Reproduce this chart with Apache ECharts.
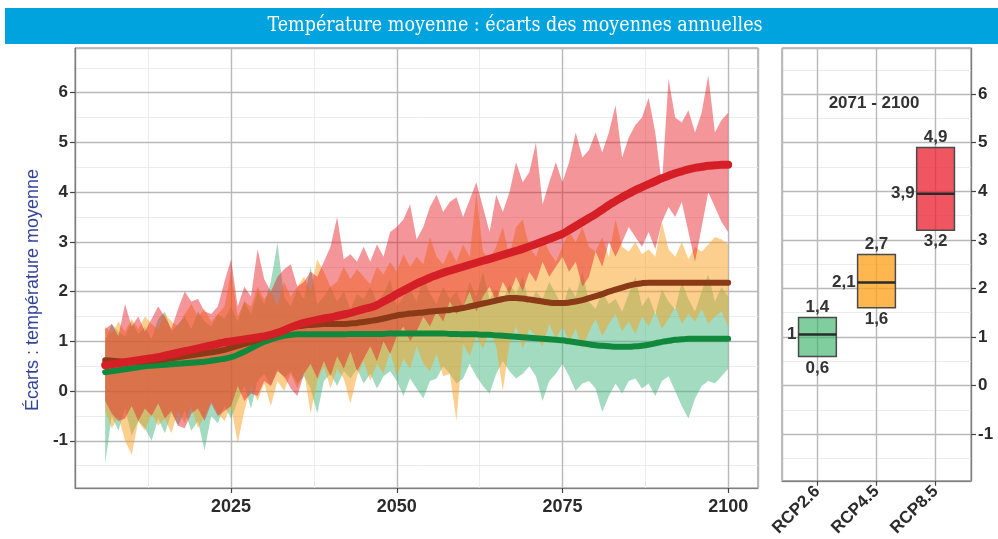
<!DOCTYPE html>
<html><head><meta charset="utf-8">
<script src="https://cdn.jsdelivr.net/npm/echarts@6/dist/echarts.min.js"></script>
<style>html,body{margin:0;padding:0;background:#fff}#c{width:998px;height:539px}</style>
</head><body><div id="c"></div>
<script>
const titleText = 'Température moyenne : écarts des moyennes annuelles';
const yAxisTitle = 'Écarts : température moyenne';
const boxPeriod = '2071 - 2100';
const firstYear = 2006, lastYear = 2100;
const scenarios = ['RCP2.6', 'RCP4.5', 'RCP8.5'];

// RCP2.6 (green)
const gMed = [0.38,0.40,0.42,0.44,0.46,0.48,0.50,0.51,0.52,0.53,
0.54,0.55,0.56,0.57,0.58,0.59,0.61,0.63,0.65,0.68,
0.73,0.79,0.86,0.93,0.99,1.04,1.08,1.11,1.13,1.14,
1.14,1.14,1.14,1.14,1.14,1.14,1.14,1.15,1.15,1.15,
1.15,1.15,1.15,1.16,1.16,1.16,1.16,1.16,1.16,1.16,
1.16,1.16,1.15,1.15,1.14,1.14,1.14,1.13,1.13,1.12,
1.11,1.10,1.09,1.08,1.07,1.06,1.05,1.04,1.03,1.02,
1.00,0.98,0.96,0.94,0.92,0.91,0.90,0.89,0.89,0.89,
0.90,0.91,0.93,0.96,0.99,1.01,1.03,1.04,1.05,1.05,
1.05,1.05,1.05,1.05,1.05];
const gHi = [1.00,1.35,1.20,1.10,1.40,1.15,1.30,1.05,1.45,1.60,
1.20,1.35,1.50,1.25,1.60,1.40,1.30,1.55,1.45,1.70,
1.40,1.80,1.55,2.00,1.75,2.20,2.98,1.90,1.70,2.05,
1.85,2.50,1.75,1.90,2.10,1.80,2.00,1.65,1.95,1.85,
2.10,1.80,1.95,2.25,1.70,1.90,2.05,1.80,2.30,1.95,
1.75,2.10,1.85,2.00,1.70,2.20,1.90,2.40,1.85,2.05,
1.80,2.15,1.95,2.30,1.75,2.00,1.85,2.20,1.95,1.70,
2.10,1.90,2.40,1.80,1.65,2.00,1.75,1.85,1.60,1.95,
2.30,1.70,1.90,1.55,2.05,1.80,1.65,2.20,1.85,1.60,
2.00,2.35,1.80,2.10,1.90];
const gLo = [-1.46,-0.50,-0.80,-0.35,-0.90,-0.60,-0.75,-1.00,-0.55,-0.85,
-0.45,-0.70,-0.40,-0.80,-0.60,-1.19,-0.50,-0.65,-0.30,-0.55,
-0.20,0.10,-0.35,0.20,0.35,0.10,0.45,0.25,0.40,0.15,
0.30,0.05,-0.45,0.20,0.35,0.10,0.40,0.25,0.45,0.15,
0.35,0.05,0.30,0.40,0.20,-0.10,0.25,0.05,-0.15,0.20,
0.25,0.50,0.35,0.15,0.25,0.55,0.30,0.10,-0.05,0.35,
0.60,0.40,0.25,0.35,0.50,0.30,-0.20,0.20,0.35,0.55,
0.30,0.00,0.15,0.20,0.05,-0.42,-0.10,0.15,-0.05,0.20,
0.25,0.05,0.15,-0.10,0.20,0.30,0.00,-0.30,-0.55,-0.15,
0.10,0.20,0.15,0.30,0.45];

// RCP4.5 (orange)
const oMed = [0.62,0.61,0.60,0.59,0.59,0.59,0.60,0.61,0.62,0.64,
0.66,0.68,0.70,0.72,0.74,0.76,0.78,0.80,0.83,0.87,
0.91,0.95,0.99,1.03,1.08,1.13,1.18,1.23,1.27,1.30,
1.32,1.33,1.34,1.35,1.35,1.35,1.35,1.36,1.37,1.39,
1.41,1.43,1.46,1.49,1.52,1.54,1.56,1.57,1.58,1.60,
1.61,1.62,1.63,1.65,1.67,1.70,1.73,1.76,1.79,1.82,
1.85,1.87,1.87,1.86,1.84,1.82,1.80,1.78,1.77,1.77,
1.78,1.80,1.83,1.87,1.91,1.95,2.00,2.04,2.08,2.12,
2.15,2.17,2.18,2.18,2.18,2.18,2.18,2.18,2.18,2.18,
2.18,2.18,2.18,2.18,2.18];
const oHi = [1.30,1.15,1.40,1.20,1.45,1.25,1.50,1.35,1.25,1.55,
1.40,1.30,1.55,1.75,1.50,1.65,1.40,1.55,1.70,2.40,
1.50,1.80,1.70,2.10,1.85,2.00,1.70,2.20,1.90,2.10,
2.30,2.00,2.65,2.40,2.10,2.20,2.50,2.25,2.45,2.30,
2.15,2.50,2.35,2.60,2.40,2.75,2.50,2.70,2.55,3.10,
2.70,2.55,2.85,2.60,2.95,2.70,4.00,2.80,2.65,2.90,
3.30,2.70,3.30,3.45,2.90,2.70,3.10,2.80,2.60,2.90,
3.20,3.00,3.30,2.90,2.80,3.10,2.70,3.45,2.90,2.80,
3.00,2.75,2.85,2.70,3.40,2.85,2.70,3.00,2.65,2.90,
2.80,2.95,3.10,3.05,2.95];
const oLo = [-0.40,-0.75,-0.50,-1.00,-1.28,-0.60,-0.80,-0.45,-0.70,-0.55,
-0.85,-0.40,-0.65,-0.30,-0.75,-0.50,-0.20,-0.45,-0.60,-0.30,
-1.05,-0.40,0.10,-0.20,0.15,-0.30,0.20,0.00,0.35,0.05,
0.40,-0.45,0.20,0.50,0.05,0.45,0.25,-0.25,0.30,0.60,
0.20,0.55,0.35,0.80,0.30,0.65,0.45,0.90,0.55,0.40,
0.75,0.30,0.35,-0.60,0.95,0.70,1.10,0.85,1.20,0.90,
0.00,0.95,1.30,0.85,1.25,1.10,0.90,1.35,1.05,1.30,
1.00,1.25,0.85,1.20,1.45,1.10,1.35,1.55,1.20,1.40,
1.15,1.50,1.30,1.60,1.25,1.45,1.70,1.35,1.55,1.40,
1.65,1.35,1.50,1.60,1.30];

// RCP8.5 (red)
const rMed = [0.52,0.54,0.56,0.58,0.60,0.62,0.64,0.66,0.68,0.71,
0.74,0.77,0.80,0.83,0.86,0.89,0.92,0.95,0.98,1.00,
1.02,1.04,1.06,1.08,1.10,1.13,1.17,1.22,1.28,1.33,
1.37,1.40,1.43,1.46,1.48,1.51,1.54,1.57,1.61,1.65,
1.68,1.73,1.80,1.87,1.95,2.02,2.09,2.16,2.22,2.28,
2.33,2.38,2.42,2.46,2.50,2.54,2.58,2.62,2.66,2.70,
2.74,2.78,2.82,2.86,2.91,2.96,3.01,3.06,3.11,3.16,
3.24,3.32,3.40,3.48,3.56,3.65,3.74,3.82,3.90,3.97,
4.04,4.10,4.16,4.22,4.28,4.33,4.38,4.42,4.46,4.49,
4.51,4.53,4.54,4.55,4.55];
const rHi = [1.25,1.35,1.10,1.75,1.30,1.50,1.20,1.45,1.70,1.50,
1.25,1.65,2.00,1.80,1.85,1.60,1.55,1.70,2.20,2.65,
1.70,2.10,1.90,2.85,2.25,2.00,2.30,2.45,2.55,2.10,
2.20,2.40,2.30,2.60,2.90,3.50,2.65,2.75,2.60,2.90,
2.60,2.95,2.70,3.20,3.30,3.45,3.75,3.05,3.30,3.70,
3.95,3.60,3.80,3.90,3.50,3.85,4.20,3.70,3.20,3.95,
3.60,4.00,4.60,4.20,4.40,5.00,3.75,4.20,4.60,4.20,
4.60,5.20,4.70,4.85,5.20,4.80,5.20,5.75,4.70,5.10,
5.35,5.50,5.90,5.20,4.15,6.28,5.50,5.40,5.65,5.20,
5.60,6.35,5.20,5.45,5.60];
const rLo = [-0.20,-0.45,-0.60,-0.55,-0.30,-0.60,-0.35,-0.50,-0.25,-0.55,
-0.40,-0.70,-0.75,-0.45,-0.35,-0.60,-0.25,-0.50,-0.40,-0.30,
0.10,-0.20,-0.05,-0.10,0.20,0.10,0.40,0.30,0.05,-0.10,
0.35,0.55,0.25,0.60,0.30,0.70,0.45,0.80,0.40,0.65,
0.90,0.60,1.00,0.75,1.10,1.30,1.00,1.20,1.50,1.30,
1.60,1.40,1.80,1.55,1.70,2.00,1.60,1.90,2.10,1.80,
2.20,1.95,2.30,2.00,2.40,2.20,2.60,2.30,2.50,2.70,
2.40,2.60,2.10,2.30,2.80,2.50,3.00,2.70,3.00,3.30,
3.10,2.90,3.20,2.85,3.40,3.70,3.50,3.80,3.20,2.60,
3.30,4.00,3.70,3.40,3.20];

// 2071-2100 summary boxes
const boxLow = [0.6, 1.6, 3.2];
const boxMed = [1.05, 2.12, 3.95];
const boxHigh = [1.4, 2.7, 4.9];
const boxMedLabel = ['1', '2,1', '3,9'];

const years = [];
for (let y = firstYear; y <= lastYear; y++) years.push(y);

const FONT = '"Liberation Sans", Arial, sans-serif';
const majorGrid = {show: true, lineStyle: {color: '#b8b8b8', width: 1.4}};
const minorGrid = {show: true, lineStyle: {color: '#ececec', width: 1}};
const frameColor = '#7f7f7f';

function pairs(arr) { return years.map((y, i) => [y, arr[i]]); }
function band(lo, hi, color) {
  return {
    type: 'custom', xAxisIndex: 1, yAxisIndex: 1, z: 2, silent: true,
    data: years.map((y, i) => [y, lo[i], hi[i]]),
    encode: {x: 0, y: [1, 2]},
    renderItem: function (params, api) {
      if (params.dataIndexInside !== 0) return null;
      const n = params.dataInsideLength;
      const top = [], bot = [];
      for (let i = 0; i < n; i++) {
        top.push(api.coord([api.value(0, i), api.value(2, i)]));
        bot.push(api.coord([api.value(0, i), api.value(1, i)]));
      }
      return {type: 'polygon', shape: {points: top.concat(bot.reverse())}, style: {fill: color}};
    }
  };
}
function medLine(arr, color, w) {
  return {type: 'line', xAxisIndex: 1, yAxisIndex: 1, symbol: 'none', smooth: 0.4,
    lineStyle: {color: color, width: w, cap: 'round', join: 'round'}, data: pairs(arr), z: 5};
}
const boxFill = ['rgba(60,178,105,0.65)', 'rgba(252,160,22,0.76)', 'rgba(234,38,52,0.78)'];
function fmt(v) { return String(v).replace('.', ','); }
function isMult(v, step) { return Math.abs(v / step - Math.round(v / step)) < 1e-6; }

const chart = echarts.init(document.getElementById('c'), null, {renderer: 'canvas'});
chart.setOption({
  animation: false,
  backgroundColor: '#fff',
  graphic: [
    {type: 'rect', shape: {x: 5, y: 8, width: 993, height: 36}, style: {fill: '#00a3de'}, z: 10},
    {type: 'text', x: 515, y: 26, z: 11, style: {text: titleText, fill: '#fff',
      font: '19.5px "DejaVu Serif Condensed", "DejaVu Serif", serif', align: 'center', verticalAlign: 'middle'}},
    {type: 'text', x: 33, y: 290, rotation: Math.PI / 2, z: 11, style: {text: yAxisTitle, fill: '#33449a',
      font: '18px ' + FONT, align: 'center', verticalAlign: 'middle'}},
    {type: 'text', x: 874, y: 103, z: 11, style: {text: boxPeriod, fill: '#333',
      font: 'bold 17px ' + FONT, align: 'center', verticalAlign: 'middle'}}
  ],
  grid: [
    {left: 75, top: 48, width: 683, height: 440, show: true, borderColor: frameColor, borderWidth: 1, backgroundColor: '#fff'},
    {left: 782, top: 48, width: 189, height: 434, show: true, borderColor: frameColor, borderWidth: 1, backgroundColor: '#fff'}
  ],
  xAxis: [
    {type: 'value', gridIndex: 0, position: 'bottom', min: 2001.45, max: 2104.5, minInterval: 12.5, maxInterval: 12.5, z: 0,
     axisLine: {show: false}, axisTick: {show: false}, axisLabel: {show: false}, splitLine: minorGrid},
    {type: 'value', gridIndex: 0, position: 'bottom', min: 2001.45, max: 2104.5, minInterval: 25, maxInterval: 25, z: 1,
     axisLine: {show: true, onZero: false, lineStyle: {color: frameColor, width: 1.2}},
     axisTick: {show: true, length: 5, lineStyle: {color: '#444', width: 1.2}},
     axisLabel: {show: true, showMinLabel: false, showMaxLabel: false, margin: 10, color: '#2b2b2b',
       fontFamily: FONT, fontWeight: 'bold', fontSize: 18,
       formatter: v => (isMult(v, 25) ? String(Math.round(v)) : '')},
     splitLine: majorGrid},
    {type: 'value', gridIndex: 1, position: 'bottom', min: 0.4, max: 3.6, minInterval: 1, maxInterval: 1, z: 1,
     axisLine: {show: true, onZero: false, lineStyle: {color: frameColor, width: 1.2}},
     axisTick: {show: true, length: 5, lineStyle: {color: '#444', width: 1.2}},
     axisLabel: {show: true, showMinLabel: false, showMaxLabel: false, rotate: 45, margin: 8, color: '#2b2b2b',
       fontFamily: FONT, fontWeight: 'bold', fontSize: 17,
       formatter: v => (isMult(v, 1) && scenarios[Math.round(v) - 1] ? scenarios[Math.round(v) - 1] : '')},
     splitLine: majorGrid}
  ],
  yAxis: [
    {type: 'value', gridIndex: 0, position: 'left', min: -1.95, max: 6.9, minInterval: 0.5, maxInterval: 0.5, z: 0,
     axisLine: {show: false}, axisTick: {show: false}, axisLabel: {show: false}, splitLine: minorGrid},
    {type: 'value', gridIndex: 0, position: 'left', min: -1.95, max: 6.9, minInterval: 1, maxInterval: 1, z: 1,
     axisLine: {show: true, onZero: false, lineStyle: {color: frameColor, width: 1.2}},
     axisTick: {show: true, length: 5, lineStyle: {color: '#444', width: 1.2}},
     axisLabel: {show: true, showMinLabel: false, showMaxLabel: false, margin: 7, color: '#2b2b2b',
       fontFamily: FONT, fontWeight: 'bold', fontSize: 17,
       formatter: v => (isMult(v, 1) ? String(Math.round(v)) : '')},
     splitLine: majorGrid},
    {type: 'value', gridIndex: 1, position: 'right', min: -1.96, max: 6.95, minInterval: 0.5, maxInterval: 0.5, z: 0,
     axisLine: {show: false}, axisTick: {show: false}, axisLabel: {show: false}, splitLine: minorGrid},
    {type: 'value', gridIndex: 1, position: 'right', min: -1.96, max: 6.95, minInterval: 1, maxInterval: 1, z: 1,
     axisLine: {show: true, onZero: false, lineStyle: {color: frameColor, width: 1.2}},
     axisTick: {show: true, length: 5, lineStyle: {color: '#444', width: 1.2}},
     axisLabel: {show: true, showMinLabel: false, showMaxLabel: false, margin: 7, color: '#2b2b2b',
       fontFamily: FONT, fontWeight: 'bold', fontSize: 17,
       formatter: v => (isMult(v, 1) ? String(Math.round(v)) : '')},
     splitLine: majorGrid}
  ],
  series: [
    band(gLo, gHi, 'rgba(71,183,129,0.5)'),
    band(oLo, oHi, 'rgba(252,160,30,0.5)'),
    band(rLo, rHi, 'rgba(232,30,38,0.47)'),
    medLine(gMed, '#11893c', 6),
    medLine(oMed, '#8a3a17', 6),
    medLine(rMed, '#d51f26', 8),
    {
      type: 'custom', xAxisIndex: 2, yAxisIndex: 3, z: 6, clip: false,
      data: scenarios.map((s, i) => [i + 1, boxLow[i], boxMed[i], boxHigh[i]]),
      renderItem: function (params, api) {
        const x = api.value(0), lo = api.value(1), md = api.value(2), hi = api.value(3);
        const half = 0.32, i = params.dataIndex;
        const tl = api.coord([x - half, hi]), br = api.coord([x + half, lo]);
        const ml = api.coord([x - half, md]), mr = api.coord([x + half, md]);
        const cx = api.coord([x, md])[0];
        const f = 'bold 17px ' + FONT;
        return {type: 'group', children: [
          {type: 'rect', shape: {x: tl[0], y: tl[1], width: br[0] - tl[0], height: br[1] - tl[1]},
           style: {fill: boxFill[i], stroke: '#4a4a4a', lineWidth: 1.5}},
          {type: 'line', shape: {x1: ml[0], y1: ml[1], x2: mr[0], y2: mr[1]},
           style: {stroke: '#2a2a2a', lineWidth: 2.5}},
          {type: 'text', x: cx, y: tl[1] - 2, style: {text: fmt(hi), fill: '#333', font: f, align: 'center', verticalAlign: 'bottom'}},
          {type: 'text', x: cx, y: br[1] + 3, style: {text: fmt(lo), fill: '#333', font: f, align: 'center', verticalAlign: 'top'}},
          {type: 'text', x: ml[0] - 2, y: ml[1], style: {text: boxMedLabel[i], fill: '#333', font: f, align: 'right', verticalAlign: 'middle'}}
        ]};
      }
    }
  ]
});
</script>
</body></html>
